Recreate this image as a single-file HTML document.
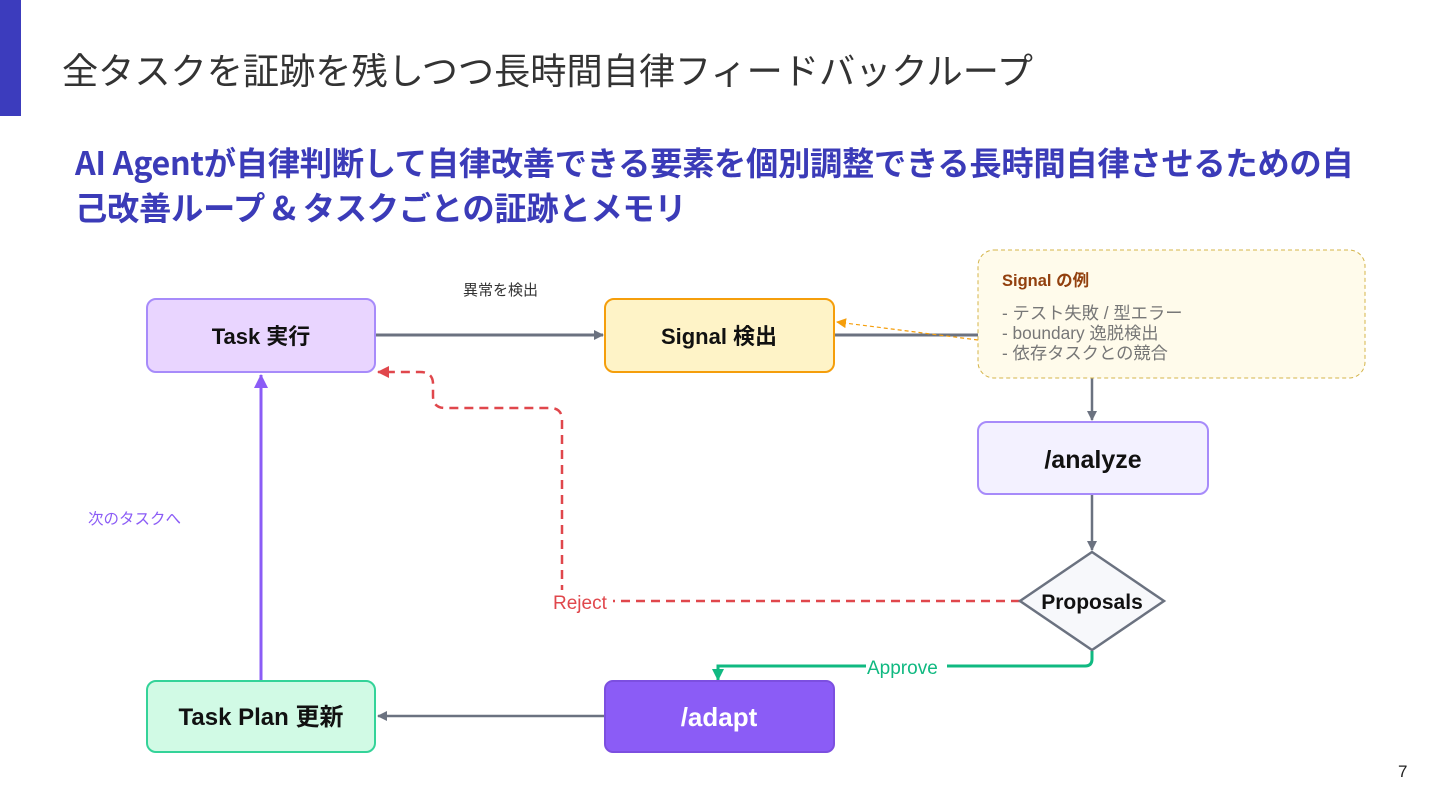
<!DOCTYPE html>
<html><head><meta charset="utf-8"><style>
body{margin:0;width:1440px;height:810px;background:#fff;overflow:hidden;position:relative;font-family:"Liberation Sans","Noto Sans CJK JP",sans-serif}
.bar{position:absolute;left:0;top:0;width:21px;height:116px;background:#3c3cbd}
.t{position:absolute;left:62px;top:43px;font-size:36.2px;color:#333;white-space:nowrap}
.s{position:absolute;left:75px;top:140px;font-size:32.3px;font-weight:bold;color:#3b3bb8;line-height:45px;font-family:"Noto Sans CJK JP",sans-serif;white-space:nowrap;letter-spacing:-0.3px}
svg{position:absolute;left:0;top:0}
</style></head><body>
<div class="bar"></div>
<div class="t">全タスクを証跡を残しつつ長時間自律フィードバックループ</div>
<div class="s">AI Agentが自律判断して自律改善できる要素を個別調整できる長時間自律させるための自<br>己改善ループ &amp; タスクごとの証跡とメモリ</div>
<svg width="1440" height="810" font-family="Liberation Sans, Noto Sans CJK JP, sans-serif">
<defs>
<marker id="g" markerWidth="10" markerHeight="10" refX="9" refY="5" orient="auto" markerUnits="userSpaceOnUse"><path d="M0,0L10,5L0,10z" fill="#6b7280"/></marker>
<marker id="o" markerWidth="10" markerHeight="10" refX="9" refY="5" orient="auto" markerUnits="userSpaceOnUse"><path d="M0,0L10,5L0,10z" fill="#f59e0b"/></marker>
<marker id="r" markerWidth="12" markerHeight="12" refX="11" refY="6" orient="auto" markerUnits="userSpaceOnUse"><path d="M0,0L12,6L0,12z" fill="#e0474c"/></marker>
<marker id="gr" markerWidth="12" markerHeight="12" refX="11" refY="6" orient="auto" markerUnits="userSpaceOnUse"><path d="M0,0L12,6L0,12z" fill="#10b981"/></marker>
<marker id="p" markerWidth="14" markerHeight="14" refX="13" refY="7" orient="auto" markerUnits="userSpaceOnUse"><path d="M0,0L14,7L0,14z" fill="#8b5cf6"/></marker>
</defs>
<line x1="376" y1="335" x2="603" y2="335" stroke="#6b7280" stroke-width="3" marker-end="url(#g)"/>
<line x1="834" y1="335" x2="980" y2="335" stroke="#6b7280" stroke-width="3"/>
<line x1="1092" y1="378" x2="1092" y2="420" stroke="#6b7280" stroke-width="2.5" marker-end="url(#g)"/>
<line x1="1092" y1="494" x2="1092" y2="550" stroke="#6b7280" stroke-width="2.5" marker-end="url(#g)"/>
<line x1="605" y1="716" x2="378" y2="716" stroke="#6b7280" stroke-width="2.5" marker-end="url(#g)"/>
<line x1="261" y1="681" x2="261" y2="375" stroke="#8b5cf6" stroke-width="3" marker-end="url(#p)"/>
<path d="M1020 601H562V420Q562 408 550 408H445Q433 408 433 396V384Q433 372 420 372H378" fill="none" stroke="#e0474c" stroke-width="2.5" stroke-dasharray="9 6" marker-end="url(#r)"/>
<path d="M1092 651V659Q1092 666 1085 666H718V680" fill="none" stroke="#10b981" stroke-width="3" marker-end="url(#gr)"/>
<line x1="978" y1="340" x2="837" y2="322" stroke="#f59e0b" stroke-width="1.2" stroke-dasharray="4 3" marker-end="url(#o)"/>
<rect x="147" y="299" width="228" height="73" rx="9" fill="#e9d5ff" stroke="#a78bfa" stroke-width="2"/>
<text x="261" y="344" text-anchor="middle" font-size="22" font-weight="bold" fill="#111">Task 実行</text>
<rect x="605" y="299" width="229" height="73" rx="9" fill="#fef3c7" stroke="#f59e0b" stroke-width="2"/>
<text x="719" y="344" text-anchor="middle" font-size="22" font-weight="bold" fill="#111">Signal 検出</text>
<rect x="978" y="250" width="387" height="128" rx="16" fill="#fffbeb" stroke="#d4b44a" stroke-width="1" stroke-dasharray="4 3"/>
<text x="1002" y="286" font-size="16.5" font-weight="bold" fill="#92400e">Signal の例</text>
<text x="1002" y="319" font-size="17.3" fill="#777">- テスト失敗 / 型エラー</text>
<text x="1002" y="339" font-size="17.3" fill="#777">- boundary 逸脱検出</text>
<text x="1002" y="359" font-size="17.3" fill="#777">- 依存タスクとの競合</text>
<rect x="978" y="422" width="230" height="72" rx="9" fill="#f3f1ff" stroke="#a78bfa" stroke-width="2"/>
<text x="1093" y="468" text-anchor="middle" font-size="25" font-weight="bold" fill="#111">/analyze</text>
<polygon points="1092,552 1164,601 1092,650 1020,601" fill="#f7f8fb" stroke="#6b7280" stroke-width="2.5"/>
<text x="1092" y="609" text-anchor="middle" font-size="21" font-weight="bold" fill="#111">Proposals</text>
<rect x="605" y="681" width="229" height="71" rx="8" fill="#8b5cf6" stroke="#7c4fe0" stroke-width="2"/>
<text x="719" y="726" text-anchor="middle" font-size="26" font-weight="bold" fill="#fff">/adapt</text>
<rect x="147" y="681" width="228" height="71" rx="9" fill="#d1fae5" stroke="#34d399" stroke-width="2"/>
<text x="261" y="725" text-anchor="middle" font-size="24" font-weight="bold" fill="#111">Task Plan 更新</text>
<rect x="553" y="590" width="60" height="24" fill="#fff"/>
<text x="553" y="609" font-size="19" fill="#e0474c">Reject</text>
<rect x="866" y="656" width="81" height="22" fill="#fff"/>
<text x="867" y="674" font-size="19" fill="#10b981">Approve</text>
<text x="463" y="295" font-size="15" fill="#333">異常を検出</text>
<text x="88" y="524" font-size="15.5" fill="#8b5cf6">次のタスクへ</text>
<text x="1398" y="777" font-size="17" fill="#222">7</text>
</svg>
</body></html>
